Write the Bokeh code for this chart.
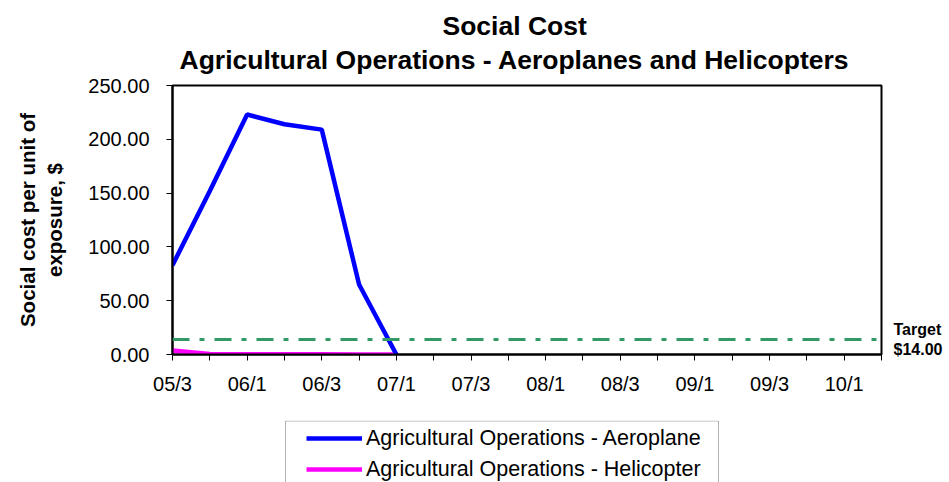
from bokeh.plotting import figure
from bokeh.layouts import column
from bokeh.models import (Range1d, FixedTicker, Legend, LegendItem, Span, Title, LinearAxis,
                          PrintfTickFormatter, BoxAnnotation)
from bokeh.embed import file_html
from bokeh.resources import INLINE

# Quarter categories (year/quarter)
quarters = ["05/3", "05/4", "06/1", "06/2", "06/3", "06/4", "07/1", "07/2", "07/3", "07/4",
            "08/1", "08/2", "08/3", "08/4", "09/1", "09/2", "09/3", "09/4", "10/1", "10/2"]
# Social cost per unit of exposure, $
aeroplane = [83.0, 152.0, 223.0, 214.0, 209.0, 65.0, 0.0]
helicopter = [3.8, 0.4, 0.3, 0.2, 0.2, 0.1, 0.0]
target = 14.00
y_ticks = [0, 50, 100, 150, 200, 250]
series_names = ["Agricultural Operations - Aeroplane", "Agricultural Operations - Helicopter"]
series_colors = ["#0000FF", "#FF00FF"]

FONT = "Liberation Sans"
W = 949
BORDER_L, BORDER_R = 172, 68

xa = list(range(len(aeroplane)))
xh = list(range(len(helicopter)))

# ---- main chart -------------------------------------------------------------
p = figure(width=W, height=420, output_backend="svg", toolbar_location=None,
           x_range=Range1d(0, len(quarters) - 1), y_range=Range1d(0, 250),
           min_border_left=BORDER_L, min_border_right=BORDER_R, min_border_top=85,
           min_border_bottom=66)
p.background_fill_color = "white"
p.border_fill_color = "white"
p.outline_line_color = "black"
p.outline_line_width = 2
p.grid.visible = False

# Titles (line 2 added first so it sits nearest the plot)
p.add_layout(Title(text="Agricultural Operations - Aeroplanes and Helicopters", align="left",
                   text_font=FONT, text_font_size="26.5px", text_font_style="bold",
                   text_color="black", offset=7, standoff=21), "above")
p.add_layout(Title(text="Social Cost", align="left", text_font=FONT, text_font_size="26.5px",
                   text_font_style="bold", text_color="black", offset=270, standoff=-16),
             "above")

# Axes
labels = {i: (q if i % 2 == 0 else "") for i, q in enumerate(quarters)}
p.xaxis.ticker = FixedTicker(ticks=list(range(len(quarters))))
p.xaxis.major_label_overrides = labels
p.xaxis.minor_tick_line_color = None
p.xaxis.major_tick_in = 0
p.xaxis.major_tick_out = 6
p.xaxis.major_label_standoff = 12
p.xaxis.axis_line_width = 2
p.xaxis.major_label_text_font = FONT
p.xaxis.major_label_text_font_size = "20px"
p.xaxis.major_label_text_color = "black"

p.yaxis.ticker = FixedTicker(ticks=y_ticks)
p.yaxis.formatter = PrintfTickFormatter(format="%.2f")
p.yaxis.minor_tick_line_color = None
p.yaxis.major_tick_in = 0
p.yaxis.major_tick_out = 6
p.yaxis.major_label_standoff = 17
p.yaxis.axis_line_width = 2
p.yaxis.major_label_text_font = FONT
p.yaxis.major_label_text_font_size = "20px"
p.yaxis.major_label_text_color = "black"
p.yaxis.axis_label = "Social cost per unit of\nexposure, $"
p.yaxis.axis_label_text_font = FONT
p.yaxis.axis_label_text_font_size = "20.5px"
p.yaxis.axis_label_text_font_style = "bold"
p.yaxis.axis_label_text_color = "black"
p.yaxis.axis_label_standoff = 19

# Target line, labelled on the right-hand side
p.add_layout(Span(location=target, dimension="width", line_color="#339966",
                  line_width=3, line_dash="17 10 5 10"))
target_axis = LinearAxis(ticker=FixedTicker(ticks=[target]),
                         major_label_overrides={target: "Target\n$%.2f" % target},
                         axis_line_color=None, major_tick_line_color=None,
                         minor_tick_line_color=None, major_label_standoff=6,
                         major_label_text_font=FONT, major_label_text_font_size="16px",
                         major_label_text_font_style="bold", major_label_text_color="black")
p.add_layout(target_axis, "right")

# Series (helicopter first so the aeroplane line sits on top)
rh = p.line(xh, helicopter, line_color=series_colors[1], line_width=4.5)
ra = p.line(xa, aeroplane, line_color=series_colors[0], line_width=4.5)

# ---- legend strip below the chart ----------------------------------------------
# frame spans the same columns as the chart, ranges are in canvas pixels
leg = figure(width=W, height=62, output_backend="svg", toolbar_location=None,
             x_range=Range1d(BORDER_L, W - BORDER_R), y_range=Range1d(0, 62),
             min_border_left=BORDER_L, min_border_right=BORDER_R,
             min_border_top=0, min_border_bottom=0)
leg.axis.visible = False
leg.grid.visible = False
leg.outline_line_color = None
leg.border_fill_color = "white"
leg.background_fill_color = "white"

# legend frame
leg.add_layout(BoxAnnotation(left=285, right=718, top=61.5, bottom=-20,
                             fill_color=None, line_color="black", line_width=1))

# key renderers: single points, so only their legend swatches show
keys = [leg.line([0], [0], line_color=c, line_width=4.5) for c in series_colors]
legend = Legend(items=[LegendItem(label=n, renderers=[r]) for n, r in zip(series_names, keys)],
                location=(134, 0), orientation="vertical",
                glyph_width=56, glyph_height=26, label_standoff=4, spacing=5, padding=6,
                label_text_font=FONT, label_text_font_size="21.5px", label_text_color="black",
                border_line_color=None, background_fill_alpha=0)
leg.add_layout(legend, "center")

open("out.html", "w").write(file_html(column(p, leg, spacing=0), INLINE))
